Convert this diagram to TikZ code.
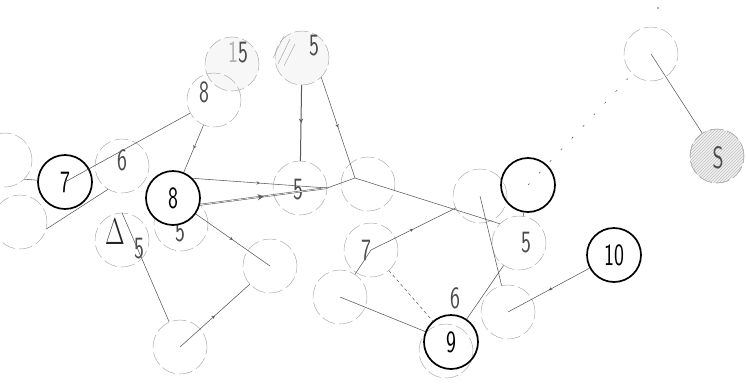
\documentclass[tikz,border=0pt]{standalone}
\usepackage{graphicx}
\usetikzlibrary{decorations.markings,patterns}
\newcommand{\lab}[1]{{\sffamily\fontsize{31}{31}\selectfont\scalebox{0.68}[1]{#1}}}
\tikzset{
  faint/.style={circle, draw=black!32, line width=0.5pt, dash pattern=on 14pt off 4pt, minimum size=54pt, inner sep=0pt, text=black!70},
  boldc/.style={circle, draw=black, line width=1.7pt, minimum size=54pt, inner sep=0pt},
  edge/.style={draw=black!65, line width=0.55pt},
  midarrow/.style={postaction={decorate}, decoration={markings, mark=at position 0.5 with {\arrow{stealth}}}},
  halo/.style={fill=black!3},
  lbl/.style={inner sep=0pt, text=black!70}
}
\begin{document}
\begin{tikzpicture}[x=1pt,y=-1pt]
\useasboundingbox (0,0) rectangle (746,383);
% faint nodes
\node[faint] (fL1) at (5,160) {};
\node[faint] (fL2) at (20,222) {};
\node[faint] (f6) at (122,166) {};
\node[faint,halo] (f15) at (232,64) {};
\node[faint] (f8) at (214,100) {};
\node[faint,halo] (f5top) at (302,58) {};
\node[faint] (f5mid) at (300,188) {};
\node[faint] (fhub) at (368,184) {};
\node[faint] (fD) at (122,240) {};
\node[faint] (f53) at (181,224) {};
\node[faint] (f266) at (270,266) {};
\node[faint] (f347) at (180,347) {};
\node[faint] (f7m) at (371,250) {};
\node[faint] (f297) at (340,297) {};
\node[faint] (f196) at (480,196) {};
\node[faint] (f5r) at (519,243) {};
\node[faint] (f312) at (508,312) {};
\node[faint] (fTR) at (651,54) {};
\node[faint,fill=black!5] (fS) at (717,156) {};
\node[faint,pattern=north east lines,pattern color=black!25] at (717,156) {};
\node[faint] (f9b) at (446,351) {};
\coordinate (hub) at (355,178);
\coordinate (dotTR) at (658,8);
\fill[black!60] (dotTR) circle (0.9pt);
% labels of faint nodes
\node[lbl] at (122,160) {\lab{6}};
\node[lbl] at (238,52) {\lab{\textcolor{black!30}{1}5}};
\node[lbl] at (204,92) {\lab{8}};
\node[lbl] at (314,46) {\lab{5}};
\draw[black!40] (284,36) -- (273,58) (290,39) -- (278,64) (295,44) -- (284,66);
\node[lbl] at (298,190) {\lab{5}};
\node[lbl,text=black!85] at (115,232) {\scalebox{1.5}{\lab{$\Delta$}}};
\node[lbl] at (139,249) {\lab{5}};
\node[lbl] at (180,232) {\lab{5}};
\node[lbl] at (366,250) {\lab{7}};
\node[lbl] at (526,243) {\lab{5}};
\node[lbl] at (455,298) {\lab{6}};
\node[lbl] at (718,158) {\lab{S}};
% bold nodes
\node[boldc,fill=white] (n7) at (65,182) {\lab{7}};
\node[boldc,fill=white] (n8b) at (173,198) {\lab{8}};
\node[boldc] (n9) at (451,342) {\lab{9}};
\node[boldc] (nR) at (528,185) {};
\node[boldc] (n10) at (614,255) {\lab{10}};
% connectors
\draw[edge] (n7.center) -- (f8);
\draw[edge,midarrow] (f8) -- (n8b);
\draw[edge] (fL1.south east) -- (n7);
\draw[edge] (fL2.345) -- (f6.239);
\draw[edge] (fD.north) -- (f347);
\draw[edge,midarrow] (n8b) -- (f266.center);
\draw[edge,midarrow] (f347.center) -- (f266);
\draw[edge,midarrow] (n8b.north east) -- (f5mid.east);
\draw[edge,midarrow,double] (f53.north east) -- (f5mid.east);
\draw[edge,line width=1pt,midarrow] (f5top) -- (f5mid);
\draw[edge,midarrow] (f5top.south east) -- (hub);
\draw[edge] (hub) -- (f5mid.east);
\draw[edge] (hub) -- (f5r.north west);
\draw[edge,midarrow] (f7m.center) -- (f196);
\draw[edge] (f7m.center) -- (f297);
\draw[edge] (f297.center) -- (n9);
\draw[edge,dashed] (f7m) -- (n9);
\draw[edge] (n9) -- (f5r);
\draw[edge] (f196.center) -- (f312);
\draw[edge,midarrow] (n10) -- (f312.center);
\draw[edge] (nR) -- (f5r);
\draw[edge,dash pattern=on 2pt off 14pt] (nR.center) -- (fTR);
\draw[edge] (fTR.center) -- (fS);
\end{tikzpicture}
\end{document}
